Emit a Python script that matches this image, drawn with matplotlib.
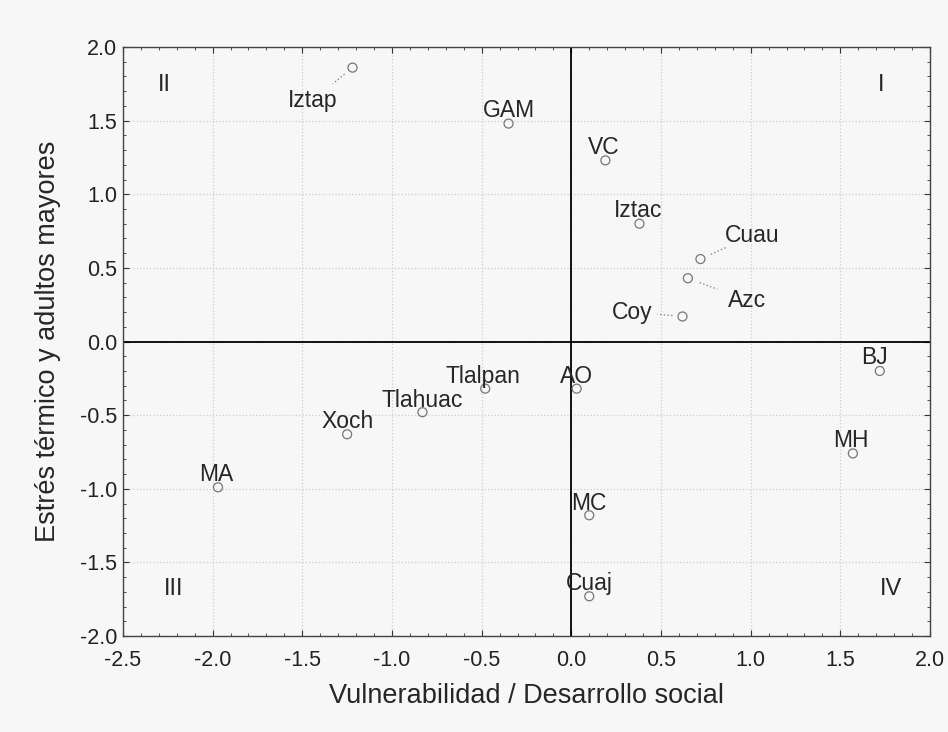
from matplotlib import pyplot as plt
from matplotlib.ticker import MultipleLocator
import numpy as np

plt.rcParams['font.family'] = ['Liberation Sans', 'DejaVu Sans']

# Municipalities (alcaldias) and their scores
names = ['Iztap', 'GAM', 'VC', 'Iztac', 'Cuau', 'Azc', 'Coy', 'BJ', 'MH',
         'AO', 'Tlalpan', 'Tlahuac', 'Xoch', 'MA', 'MC', 'Cuaj']
vulnerabilidad = [-1.22, -0.35, 0.19, 0.38, 0.72, 0.65, 0.62, 1.72, 1.57,
                  0.03, -0.48, -0.83, -1.25, -1.97, 0.10, 0.10]
estres = [1.86, 1.48, 1.23, 0.80, 0.56, 0.43, 0.17, -0.20, -0.76,
          -0.32, -0.32, -0.48, -0.63, -0.99, -1.18, -1.73]

# label offsets in data units, and whether a leader line is drawn
label_offset = {
    'Iztap': (-0.22, -0.22, True), 'GAM': (0.0, 0.09, False),
    'VC': (-0.01, 0.09, False), 'Iztac': (-0.01, 0.09, False),
    'Cuau': (0.29, 0.16, True), 'Azc': (0.33, -0.15, True),
    'Coy': (-0.28, 0.03, True), 'BJ': (-0.03, 0.09, False),
    'MH': (-0.01, 0.09, False), 'AO': (0.0, 0.08, False),
    'Tlalpan': (-0.01, 0.08, False), 'Tlahuac': (0.0, 0.08, False),
    'Xoch': (0.0, 0.09, False), 'MA': (-0.01, 0.09, False),
    'MC': (0.0, 0.08, False), 'Cuaj': (0.0, 0.09, False),
}

quadrants = ['I', 'II', 'III', 'IV']
quadrant_x = [1.73, -2.27, -2.22, 1.78]
quadrant_y = [1.74, 1.74, -1.68, -1.68]

bg = '#f7f7f7'
fig = plt.figure(figsize=(9.48, 7.32), dpi=100, facecolor=bg)
ax = fig.add_axes([0.1297, 0.1311, 0.8513, 0.8047], facecolor=bg)

ax.set_xlim(-2.5, 2.0)
ax.set_ylim(-2.0, 2.0)
ax.xaxis.set_major_locator(MultipleLocator(0.5))
ax.yaxis.set_major_locator(MultipleLocator(0.5))
ax.xaxis.set_minor_locator(MultipleLocator(0.1))
ax.yaxis.set_minor_locator(MultipleLocator(0.1))
ax.xaxis.set_major_formatter(lambda v, p: f'{v:.1f}')
ax.yaxis.set_major_formatter(lambda v, p: f'{v:.1f}')
ax.tick_params(which='both', direction='in', top=True, right=True,
               colors='#333333', labelcolor='#222222')
ax.tick_params(which='major', length=4, labelsize=15.5)
ax.tick_params(axis='x', which='major', pad=10)
ax.tick_params(axis='y', which='major', pad=4)
ax.tick_params(which='minor', length=2.5)
ax.grid(True, which='major', color='#cccccc', linestyle=':', linewidth=0.9)
for s in ax.spines.values():
    s.set_color('#444444')
    s.set_linewidth(1.0)

ax.axhline(0, color='black', linewidth=1.3, zorder=2)
ax.axvline(0, color='black', linewidth=1.3, zorder=2)

ax.scatter(vulnerabilidad, estres, s=42, facecolors='none',
           edgecolors='#777777', linewidths=0.9, zorder=3)

for name, x, y in zip(names, vulnerabilidad, estres):
    dx, dy, leader = label_offset[name]
    ax.text(x + dx, y + dy, name, fontsize=16.5, color='#262626',
            ha='center', va='center', zorder=4)
    if leader:
        ax.plot([x + dx * 0.2, x + dx * 0.5], [y + dy * 0.2, y + dy * 0.5],
                color='#888888', linestyle=':', linewidth=1.0, zorder=2)

for q, x, y in zip(quadrants, quadrant_x, quadrant_y):
    ax.text(x, y, q, fontsize=17, color='#262626', ha='center', va='center')

ax.set_xlabel('Vulnerabilidad / Desarrollo social', fontsize=19.5, color='#262626', labelpad=9)
ax.set_ylabel('Estrés térmico y adultos mayores', fontsize=19.5, color='#262626', labelpad=14)

fig.savefig('out.png', dpi=100, facecolor=bg)
